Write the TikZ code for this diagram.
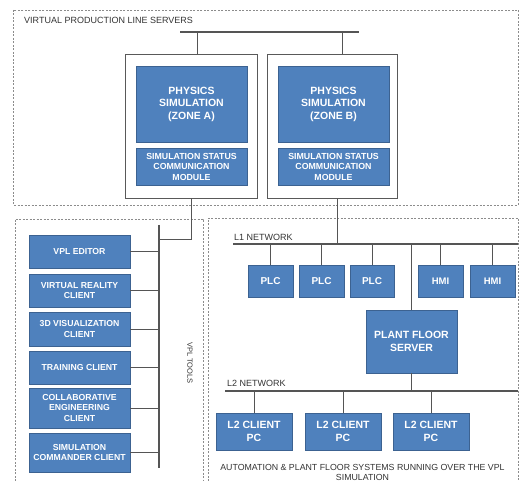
\documentclass[tikz,border=0pt]{standalone}
\usepackage{fontspec}
\setmainfont{Liberation Sans}
\usepackage{tikz}
\usetikzlibrary{positioning, calc}
\definecolor{boxblue}{RGB}{79,129,189}
\definecolor{boxedge}{RGB}{60,98,145}
\definecolor{busgray}{RGB}{85,85,85}
\definecolor{zonegray}{RGB}{140,140,140}

\begin{document}
\begin{tikzpicture}[
  x=1pt, y=-1pt,
  blk/.style={rectangle, draw=boxedge, fill=boxblue, text=white,
              font=\fontsize{8.7}{10.5}\selectfont\bfseries, align=center,
              inner sep=1pt},
  holder/.style={rectangle, draw=gray!70!black, fill=white},
  zone/.style={draw=zonegray, dash pattern=on 2pt off 1.5pt, line width=0.5pt},
  bus/.style={draw=busgray, line width=1.2pt},
  link/.style={draw=busgray, line width=0.6pt},
  lbl/.style={font=\fontsize{9}{10.5}\selectfont, text=black!80, inner sep=0pt},
]
\useasboundingbox (0,0) rectangle (520,481);

% Zones
\draw[zone] (13,10) rectangle (518,205);
\draw[zone] (15,481) |- (203,219) -- (203,481);
\draw[zone] (208,481) |- (518,218) -- (518,481);
\node[lbl, anchor=west] (vplservers) at (24,20) {VIRTUAL PRODUCTION LINE SERVERS};

% Servers
\node[holder, minimum width=132, minimum height=144] (contA) at (191,126) {};
\node[holder, minimum width=130, minimum height=144] (contB) at (332,126) {};
\node[blk, minimum width=111, minimum height=76, font=\fontsize{10.5}{12.5}\selectfont\bfseries]
  (physA) at (191.5,104) {PHYSICS\\SIMULATION\\(ZONE A)};
\node[blk, minimum width=111, minimum height=37, font=\fontsize{8.8}{10.5}\selectfont\bfseries]
  (commA) at (191.5,166.5) {SIMULATION STATUS\\COMMUNICATION\\MODULE};
\node[blk, minimum width=111, minimum height=76, font=\fontsize{10.5}{12.5}\selectfont\bfseries]
  (physB) at (333.5,104) {PHYSICS\\SIMULATION\\(ZONE B)};
\node[blk, minimum width=111, minimum height=37, font=\fontsize{8.8}{10.5}\selectfont\bfseries]
  (commB) at (333.5,166.5) {SIMULATION STATUS\\COMMUNICATION\\MODULE};

% Server bus
\coordinate (topL) at (180,32);
\coordinate (topR) at (359,32);
\coordinate (dropA) at (197,32);
\coordinate (dropB) at (342,32);
\draw[bus] (topL) -- (topR);
\draw[link] (dropA) -- (dropA |- contA.north);
\draw[link] (dropB) -- (dropB |- contB.north);

% VPL tools
\node[blk, minimum width=101, minimum height=33] (editor) at (79.5,251.5) {VPL EDITOR};
\node[blk, minimum width=101, minimum height=33] (vr) at (79.5,290.5) {VIRTUAL REALITY\\CLIENT};
\node[blk, minimum width=101, minimum height=34] (viz) at (79.5,329) {3D VISUALIZATION\\CLIENT};
\node[blk, minimum width=101, minimum height=33] (training) at (79.5,367.5) {TRAINING CLIENT};
\node[blk, minimum width=101, minimum height=40] (collab) at (79.5,408) {COLLABORATIVE\\ENGINEERING\\CLIENT};
\node[blk, minimum width=101, minimum height=39] (commander) at (79.5,452.5) {SIMULATION\\COMMANDER CLIENT};
\node[lbl, rotate=-90, font=\fontsize{7.5}{9}\selectfont] (vpltools) at (190,363) {VPL TOOLS};

\coordinate (toolsTop) at (159,225);
\coordinate (toolsBot) at (159,468);
\coordinate (tapA) at (159,239);
\draw[bus] (toolsTop) -- (toolsBot);
\draw[link] (contA.south) |- (tapA);
\foreach \t in {editor, vr, viz, training, collab, commander}
  \draw[link] (\t.east) -- (\t.east -| toolsTop);

% L1 network
\coordinate (l1L) at (233,244);
\coordinate (l1R) at (518,244);
\coordinate (l1tap) at (337,244);
\draw[bus] (l1L) -- (l1R);
\node[lbl, anchor=west] (l1lbl) at (234,237.5) {L1 NETWORK};
\draw[link] (l1tap |- contB.south) -- (l1tap);

\node[blk, minimum width=45, minimum height=32, font=\fontsize{10}{12}\selectfont\bfseries] (plc1) at (270.5,281) {PLC};
\node[blk, minimum width=45, minimum height=32, font=\fontsize{10}{12}\selectfont\bfseries] (plc2) at (321.5,281) {PLC};
\node[blk, minimum width=44, minimum height=32, font=\fontsize{10}{12}\selectfont\bfseries] (plc3) at (372,281) {PLC};
\node[blk, minimum width=45, minimum height=32, font=\fontsize{9.5}{12}\selectfont\bfseries] (hmi1) at (440.5,281) {HMI};
\node[blk, minimum width=45, minimum height=32, font=\fontsize{9.5}{12}\selectfont\bfseries] (hmi2) at (492.5,281) {HMI};
\node[blk, minimum width=91, minimum height=63, font=\fontsize{10.5}{13}\selectfont\bfseries]
  (server) at (411.5,341.5) {PLANT FLOOR\\SERVER};
\foreach \d in {plc1, plc2, plc3, hmi1, hmi2, server}
  \draw[link] (\d.north) -- (\d.north |- l1L);

% L2 network
\coordinate (l2L) at (225,391);
\coordinate (l2R) at (518,391);
\draw[bus] (l2L) -- (l2R);
\node[lbl, anchor=west] (l2lbl) at (227,383.5) {L2 NETWORK};
\draw[link] (server.south) -- (server.south |- l2L);

\node[blk, minimum width=76, minimum height=37, font=\fontsize{10.5}{13}\selectfont\bfseries] (pc1) at (254,431.5) {L2 CLIENT\\PC};
\node[blk, minimum width=76, minimum height=37, font=\fontsize{10.5}{13}\selectfont\bfseries] (pc2) at (343,431.5) {L2 CLIENT\\PC};
\node[blk, minimum width=76, minimum height=37, font=\fontsize{10.5}{13}\selectfont\bfseries] (pc3) at (431,431.5) {L2 CLIENT\\PC};
\foreach \p in {pc1, pc2, pc3}
  \draw[link] (\p.north) -- (\p.north |- l2L);

\node[lbl, align=center, font=\fontsize{8.8}{10}\selectfont] (caption) at (362.5,472.5)
  {AUTOMATION \& PLANT FLOOR SYSTEMS RUNNING OVER THE VPL\\SIMULATION};

\end{tikzpicture}
\end{document}
